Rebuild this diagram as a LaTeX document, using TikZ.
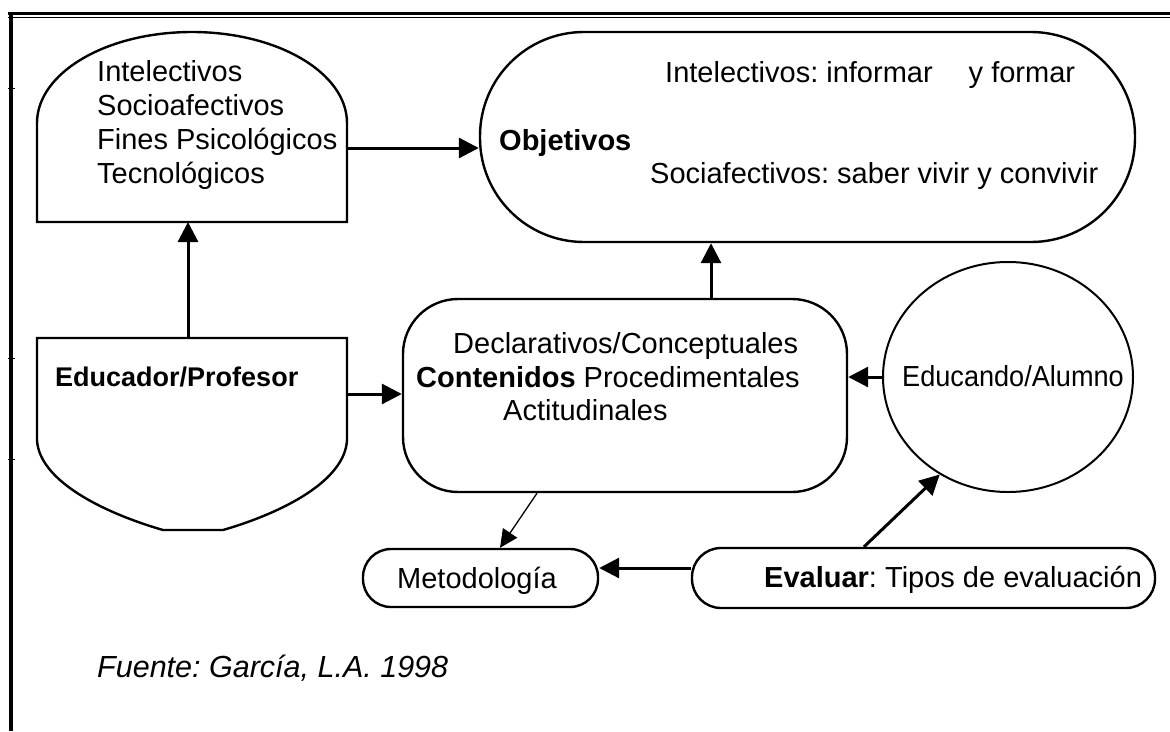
\documentclass[tikz,border=0pt]{standalone}
\usepackage{fontspec}
\setmainfont{Liberation Sans}
\usetikzlibrary{shapes.geometric,arrows.meta}
\begin{document}
\frenchspacing
\begin{tikzpicture}[x=1pt,y=-1pt,
  txt/.style={inner sep=0pt, anchor=base west, font=\fontsize{29}{34}\selectfont},
  shp/.style={draw, line width=2.4pt, inner sep=0pt},
  arr/.style={line width=3pt, -{Triangle[length=20pt,width=20pt]}},
  tarr/.style={line width=1.3pt, -{Triangle[length=18pt,width=17pt]}}]
\useasboundingbox (0,0) rectangle (1170,731);
% frame
\draw[line width=2.6pt] (8,13.5) -- (1170,13.5);
\draw[line width=1.4pt] (8,17.5) -- (1170,17.5);
\draw[line width=4pt] (10.5,12.2) -- (10.5,731);
\foreach \yy in {88,358,459} \draw[line width=1pt] (8,\yy) -- (15,\yy);
% fines shape
\draw[line width=2.4pt] (37,222) -- (37,123) .. controls (37,73) and (106,32) .. (192,32)
  .. controls (278,32) and (347,73) .. (347,123) -- (347,222) -- cycle;
\coordinate (fines-e) at (347,148);
\coordinate (fines-s) at (188,222);
\node[txt] (f1) at (97,81) {Intelectivos};
\node[txt] (f2) at (97,115) {Socioafectivos};
\node[txt] (f3) at (97,149) {Fines Psicológicos};
\node[txt] (f4) at (97,183) {Tecnológicos};
% educador shape
\draw[line width=2.4pt] (37,338) -- (347,338) -- (347,440)
  .. controls (345,480) and (285,512) .. (223,530) -- (163,530)
  .. controls (101,512) and (39,480) .. (37,440) -- cycle;
\coordinate (educ-n) at (188,338);
\coordinate (educ-e) at (347,394);
\node[txt, font=\fontsize{27}{34}\selectfont\bfseries] (edu) at (55,386) {Educador/Profesor};
% objetivos
\node[shp, rectangle, rounded corners=104pt, minimum width=655pt, minimum height=210pt] (objetivos) at (807.5,137) {};
\node[txt, font=\fontsize{29}{34}\selectfont\bfseries] (o1) at (499,150) {Objetivos};
\node[txt] (o2) at (665,82) {Intelectivos: informar\hspace{36pt}y formar};
\node[txt] (o3) at (650,183) {Sociafectivos: saber vivir y convivir};
% contenidos
\node[shp, rectangle, rounded corners=55pt, minimum width=444pt, minimum height=193pt] (contenidos) at (625,395.5) {};
\node[txt] (c1) at (453,353) {Declarativos/Conceptuales};
\node[txt] (c2) at (416,387) {\textbf{Contenidos} Procedimentales};
\node[txt] (c3) at (503,420) {Actitudinales};
% educando
\node[draw, line width=2pt, ellipse, inner sep=0pt, minimum width=250pt, minimum height=230pt] (educando) at (1008,377) {};
\node[txt] (e1) at (902,386) {\scalebox{0.935}[1]{Educando/Alumno}};
% metodologia
\node[shp, rectangle, rounded corners=28pt, minimum width=235pt, minimum height=58pt] (metodologia) at (480.5,578) {};
\node[txt] (m1) at (397,588) {Metodología};
% evaluar
\node[shp, rectangle, rounded corners=29pt, minimum width=463pt, minimum height=60pt] (evaluar) at (923.5,578) {};
\node[txt] (v1) at (764,587) {\textbf{Evaluar}: Tipos de evaluación};
% fuente
\node[txt, font=\fontsize{30.5}{34}\selectfont\itshape] (fuente) at (97,677) {Fuente: García, L.A. 1998};
% connectors
\draw[arr] (fines-e) -- (fines-e -| objetivos.west);
\draw[arr] (educ-n) -- (fines-s);
\draw[arr] (educ-e) -- (educ-e -| contenidos.west);
\draw[arr] ([xshift=86pt]contenidos.north) -- ([xshift=86pt]contenidos.north |- objetivos.south);
\draw[arr] (educando.west) -- (educando.west -| contenidos.east);
\draw[arr] ([xshift=-59.5pt]evaluar.north) -- (educando.235);
\draw[arr] ([yshift=10pt]evaluar.west) -- ([yshift=10pt]evaluar.west -| metodologia.east);
\draw[tarr] ([xshift=-88pt]contenidos.south) -- ([xshift=19.5pt]metodologia.north);
\end{tikzpicture}
\end{document}
